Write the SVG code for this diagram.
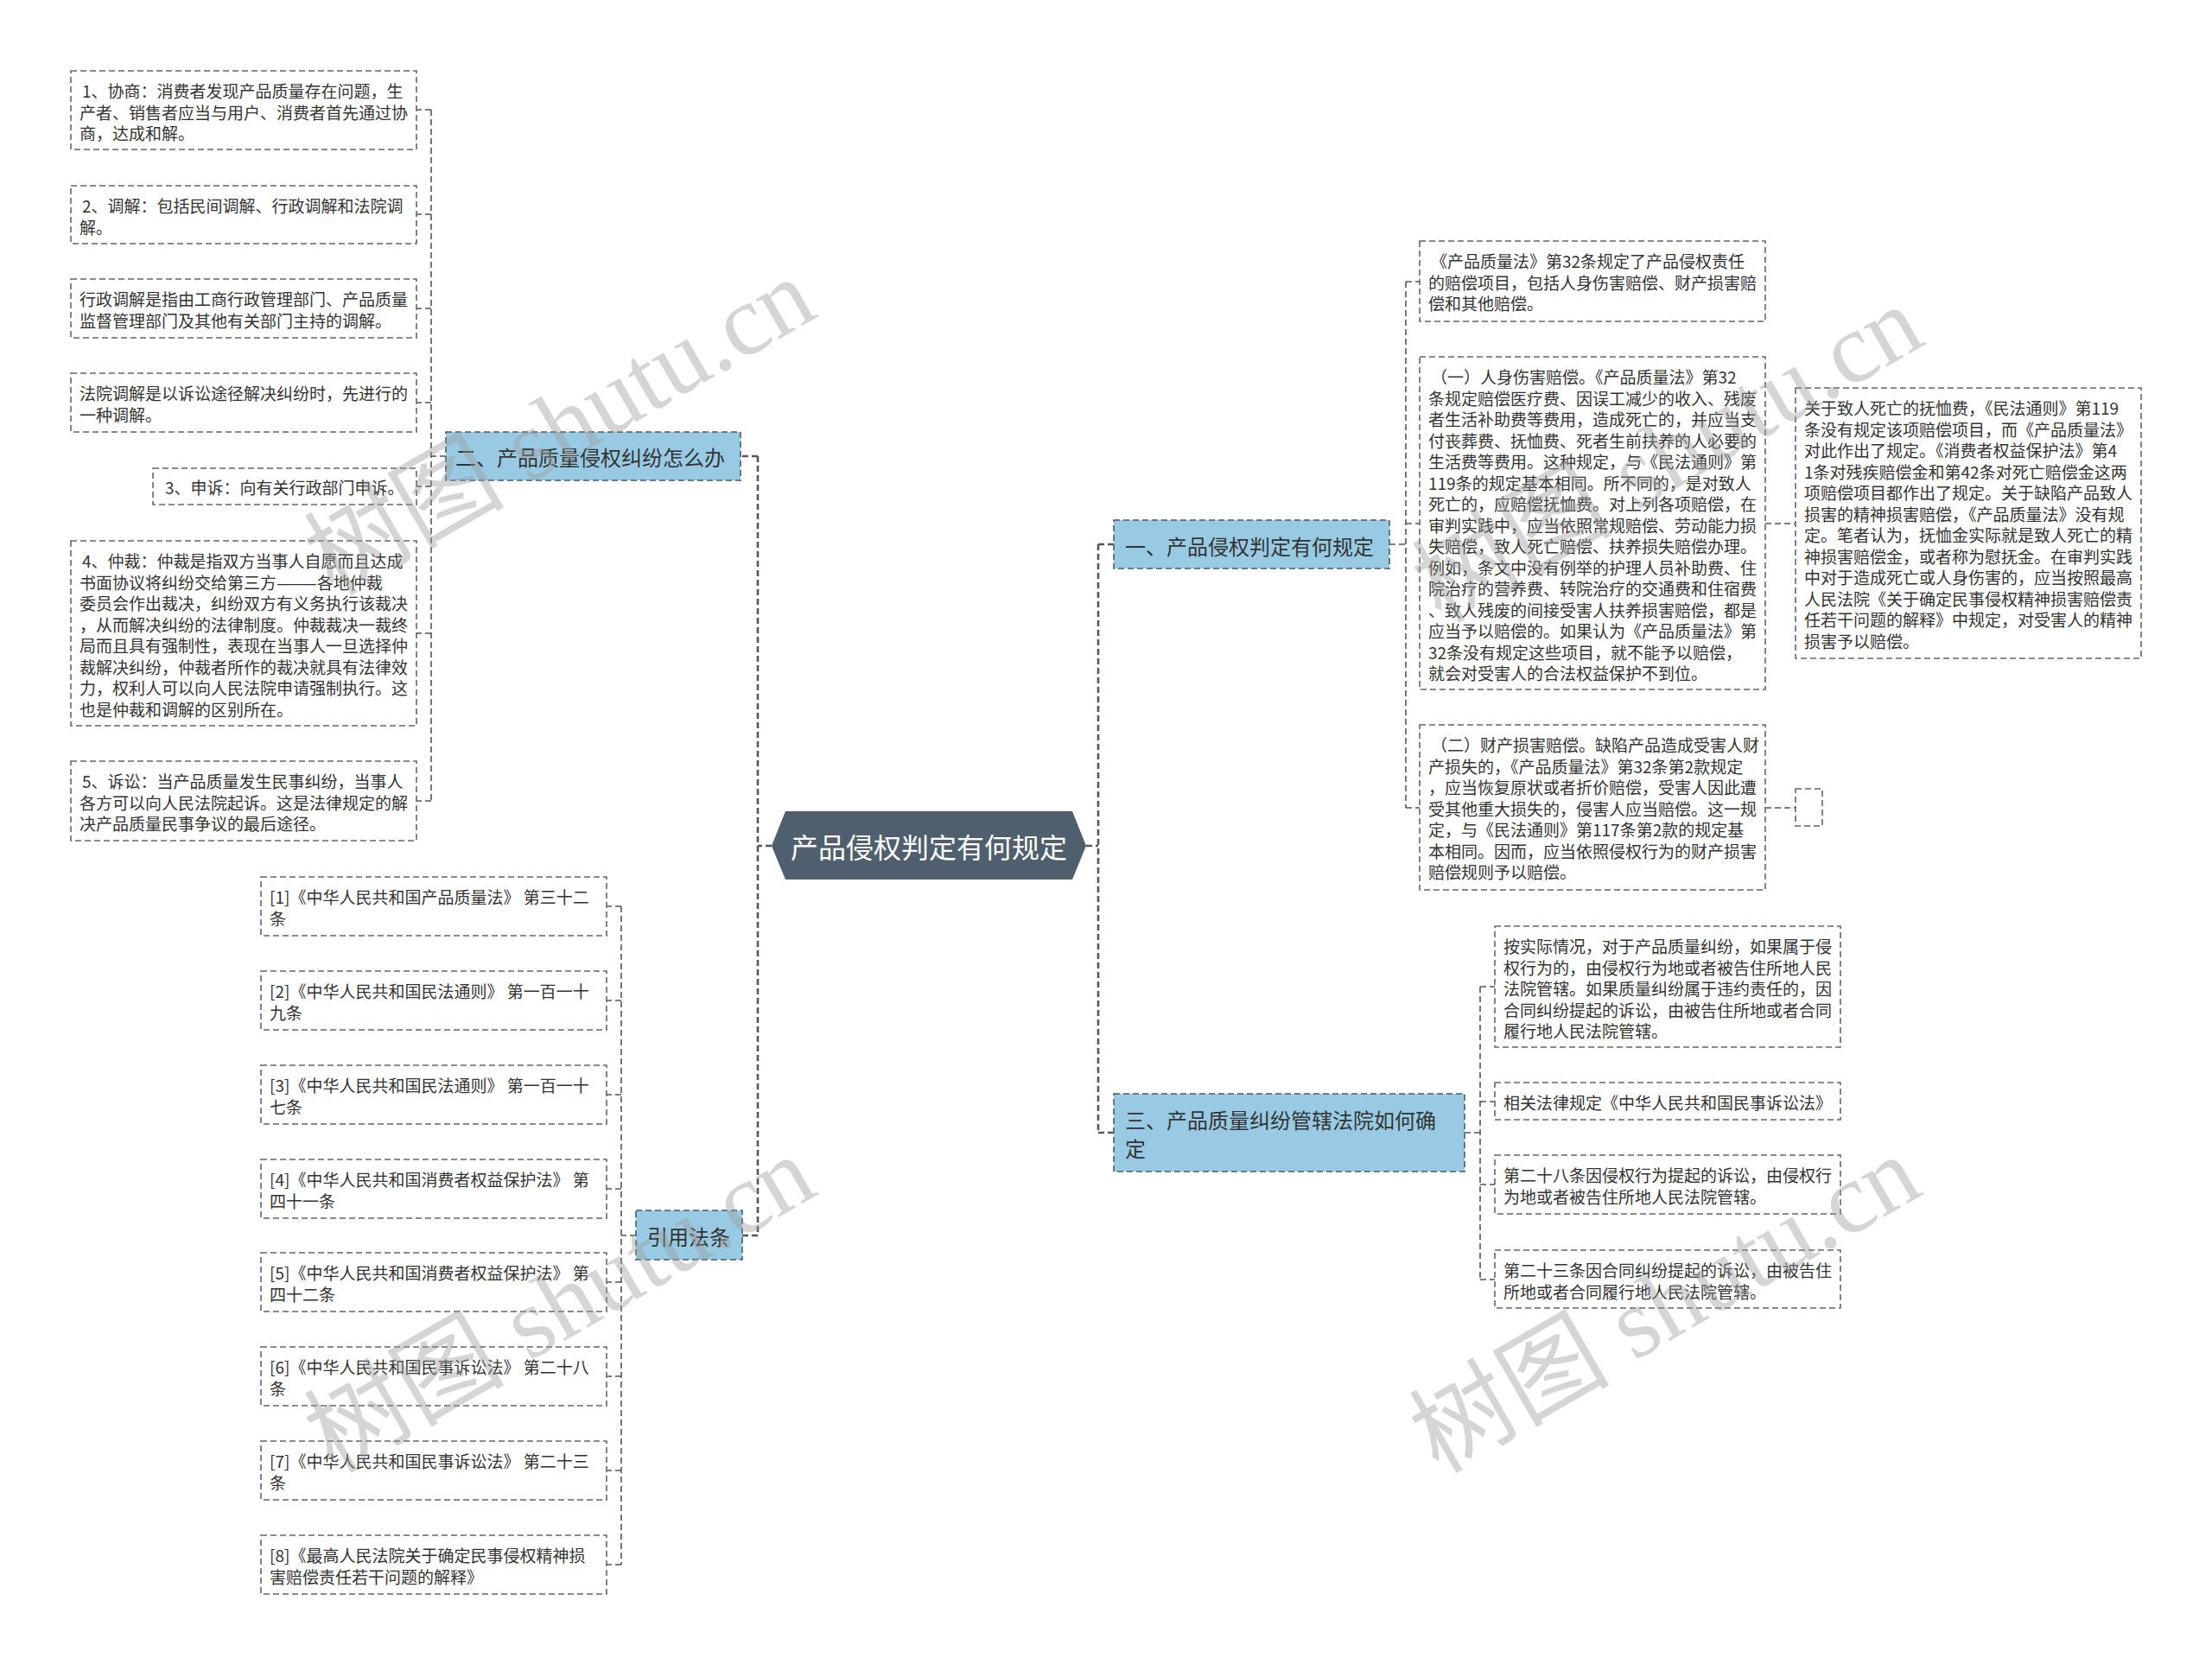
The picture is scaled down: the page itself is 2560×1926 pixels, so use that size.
<svg xmlns="http://www.w3.org/2000/svg" width="2560" height="1926" viewBox="0 0 2560 1926">
<style>
.bx{fill:#ffffff;stroke:#666;stroke-width:1.6;stroke-dasharray:7 4}
.br{fill:#98cbe3;stroke:#4a5a68;stroke-width:1.6;stroke-dasharray:7 4}
.t{font-family:"Noto Sans CJK SC","Microsoft YaHei",sans-serif;font-size:19px;fill:#333;dominant-baseline:central}
.tb{font-family:"Noto Sans CJK SC","Microsoft YaHei",sans-serif;font-size:24px;fill:#333;dominant-baseline:central}
.tc{font-family:"Noto Sans CJK SC","Microsoft YaHei",sans-serif;font-size:32px;fill:#fff;dominant-baseline:central;text-anchor:middle}
.c{fill:none;stroke:#555;stroke-width:1.6;stroke-dasharray:7 4}
.cm{fill:none;stroke:#4a5a68;stroke-width:2.6;stroke-dasharray:7 4}
.wm{font-family:"Liberation Serif","Noto Sans CJK SC",serif;font-size:116px;fill:#9a9a9a;fill-opacity:0.42;text-anchor:middle;dominant-baseline:central}
</style>
<rect width="2560" height="1926" fill="#ffffff"/>

<g id="connectors">
<path class="cm" d="M893 979 H877 M877 528 V1430 M877 528 H857 M877 1430 H859"/>
<path class="cm" d="M1257 979 H1271 M1271 630 V1311 M1271 630 H1289 M1271 1311 H1289"/>
<path class="c" d="M516 528 H499 M499 127 V927 M499 127 H482 M499 248 H482 M499 357 H482 M499 466 H482 M499 563 H482 M499 733 H482 M499 927 H482"/>
<path class="c" d="M736 1430 H719 M719 1049 V1811 M719 1049 H702 M719 1158 H702 M719 1267 H702 M719 1376 H702 M719 1484 H702 M719 1593 H702 M719 1702 H702 M719 1811 H702"/>
<path class="c" d="M1608 630 H1627 M1627 326 V935 M1627 326 H1643 M1627 606 H1643 M1627 935 H1643 M2043 606 H2078 M2043 935 H2078"/>
<path class="c" d="M1695 1311 H1713 M1713 1142 V1481 M1713 1142 H1730 M1713 1275 H1730 M1713 1371 H1730 M1713 1481 H1730"/>
</g>

<g id="center">
<polygon points="893,979 909,939 1241,939 1257,979 1241,1018 909,1018" fill="#4f5f6d"/>
<text class="tc" x="1075" y="979">产品侵权判定有何规定</text>
</g>

<g id="b2">
<rect class="br" x="516" y="500" width="341" height="56"/>
<text class="tb" x="527" y="528">二、产品质量侵权纠纷怎么办</text>
</g>
<g id="b2-1">
<rect class="bx" x="82" y="82" width="400" height="91"/>
<text class="t" x="93" y="104"><tspan x="95">1、协商：消费者发现产品质量存在问题，生</tspan><tspan x="92" dy="24.5">产者、销售者应当与用户、消费者首先通过协</tspan><tspan x="92" dy="24.5">商，达成和解。</tspan></text>
</g>
<g id="b2-2">
<rect class="bx" x="82" y="215" width="400" height="67"/>
<text class="t" x="92" y="237"><tspan x="95">2、调解：包括民间调解、行政调解和法院调</tspan><tspan x="92" dy="24.5">解。</tspan></text>
</g>
<g id="b2-3">
<rect class="bx" x="82" y="323" width="400" height="68"/>
<text class="t" x="92" y="345"><tspan x="92">行政调解是指由工商行政管理部门、产品质量</tspan><tspan x="92" dy="24.5">监督管理部门及其他有关部门主持的调解。</tspan></text>
</g>
<g id="b2-4">
<rect class="bx" x="82" y="432" width="400" height="68"/>
<text class="t" x="92" y="454"><tspan x="92">法院调解是以诉讼途径解决纠纷时，先进行的</tspan><tspan x="92" dy="24.5">一种调解。</tspan></text>
</g>
<g id="b2-5">
<rect class="bx" x="177" y="542" width="305" height="42"/>
<text class="t" x="191" y="563">3、申诉：向有关行政部门申诉。</text>
</g>
<g id="b2-6">
<rect class="bx" x="82" y="626" width="400" height="214"/>
<text class="t" x="92" y="648"><tspan x="95">4、仲裁：仲裁是指双方当事人自愿而且达成</tspan><tspan x="92" dy="24.5">书面协议将纠纷交给第三方———各地仲裁</tspan><tspan x="92" dy="24.5">委员会作出裁决，纠纷双方有义务执行该裁决</tspan><tspan x="92" dy="24.5">，从而解决纠纷的法律制度。仲裁裁决一裁终</tspan><tspan x="92" dy="24.5">局而且具有强制性，表现在当事人一旦选择仲</tspan><tspan x="92" dy="24.5">裁解决纠纷，仲裁者所作的裁决就具有法律效</tspan><tspan x="92" dy="24.5">力，权利人可以向人民法院申请强制执行。这</tspan><tspan x="92" dy="24.5">也是仲裁和调解的区别所在。</tspan></text>
</g>
<g id="b2-7">
<rect class="bx" x="82" y="881" width="400" height="92"/>
<text class="t" x="92" y="903"><tspan x="95">5、诉讼：当产品质量发生民事纠纷，当事人</tspan><tspan x="92" dy="24.5">各方可以向人民法院起诉。这是法律规定的解</tspan><tspan x="92" dy="24.5">决产品质量民事争议的最后途径。</tspan></text>
</g>

<g id="ref">
<rect class="br" x="736" y="1401" width="123" height="57"/>
<text class="tb" x="749" y="1430">引用法条</text>
</g>
<g id="ref-1"><rect class="bx" x="302" y="1015" width="400" height="68"/><text class="t" y="1037"><tspan x="312">[1]《中华人民共和国产品质量法》 第三十二</tspan><tspan x="312" dy="24.5">条</tspan></text></g>
<g id="ref-2"><rect class="bx" x="302" y="1124" width="400" height="68"/><text class="t" y="1146"><tspan x="312">[2]《中华人民共和国民法通则》 第一百一十</tspan><tspan x="312" dy="24.5">九条</tspan></text></g>
<g id="ref-3"><rect class="bx" x="302" y="1233" width="400" height="68"/><text class="t" y="1255"><tspan x="312">[3]《中华人民共和国民法通则》 第一百一十</tspan><tspan x="312" dy="24.5">七条</tspan></text></g>
<g id="ref-4"><rect class="bx" x="302" y="1342" width="400" height="68"/><text class="t" y="1364"><tspan x="312">[4]《中华人民共和国消费者权益保护法》 第</tspan><tspan x="312" dy="24.5">四十一条</tspan></text></g>
<g id="ref-5"><rect class="bx" x="302" y="1450" width="400" height="68"/><text class="t" y="1472"><tspan x="312">[5]《中华人民共和国消费者权益保护法》 第</tspan><tspan x="312" dy="24.5">四十二条</tspan></text></g>
<g id="ref-6"><rect class="bx" x="302" y="1559" width="400" height="68"/><text class="t" y="1581"><tspan x="312">[6]《中华人民共和国民事诉讼法》 第二十八</tspan><tspan x="312" dy="24.5">条</tspan></text></g>
<g id="ref-7"><rect class="bx" x="302" y="1668" width="400" height="68"/><text class="t" y="1690"><tspan x="312">[7]《中华人民共和国民事诉讼法》 第二十三</tspan><tspan x="312" dy="24.5">条</tspan></text></g>
<g id="ref-8"><rect class="bx" x="302" y="1777" width="400" height="68"/><text class="t" y="1799"><tspan x="312">[8]《最高人民法院关于确定民事侵权精神损</tspan><tspan x="312" dy="24.5">害赔偿责任若干问题的解释》</tspan></text></g>

<g id="b1">
<rect class="br" x="1289" y="602" width="319" height="56"/>
<text class="tb" x="1302" y="631">一、产品侵权判定有何规定</text>
</g>
<g id="b1-1">
<rect class="bx" x="1643" y="279" width="400" height="93"/>
<text class="t" y="301"><tspan x="1656">《产品质量法》第32条规定了产品侵权责任</tspan><tspan x="1653" dy="24.5">的赔偿项目，包括人身伤害赔偿、财产损害赔</tspan><tspan x="1653" dy="24.5">偿和其他赔偿。</tspan></text>
</g>
<g id="b1-2">
<rect class="bx" x="1643" y="413" width="400" height="385"/>
<text class="t" y="435"><tspan x="1656">（一）人身伤害赔偿。《产品质量法》第32</tspan><tspan x="1653" dy="24.5">条规定赔偿医疗费、因误工减少的收入、残废</tspan><tspan x="1653" dy="24.5">者生活补助费等费用，造成死亡的，并应当支</tspan><tspan x="1653" dy="24.5">付丧葬费、抚恤费、死者生前扶养的人必要的</tspan><tspan x="1653" dy="24.5">生活费等费用。这种规定，与《民法通则》第</tspan><tspan x="1653" dy="24.5">119条的规定基本相同。所不同的，是对致人</tspan><tspan x="1653" dy="24.5">死亡的，应赔偿抚恤费。对上列各项赔偿，在</tspan><tspan x="1653" dy="24.5">审判实践中，应当依照常规赔偿、劳动能力损</tspan><tspan x="1653" dy="24.5">失赔偿，致人死亡赔偿、扶养损失赔偿办理。</tspan><tspan x="1653" dy="24.5">例如，条文中没有例举的护理人员补助费、住</tspan><tspan x="1653" dy="24.5">院治疗的营养费、转院治疗的交通费和住宿费</tspan><tspan x="1653" dy="24.5">、致人残废的间接受害人扶养损害赔偿，都是</tspan><tspan x="1653" dy="24.5">应当予以赔偿的。如果认为《产品质量法》第</tspan><tspan x="1653" dy="24.5">32条没有规定这些项目，就不能予以赔偿，</tspan><tspan x="1653" dy="24.5">就会对受害人的合法权益保护不到位。</tspan></text>
</g>
<g id="b1-2-1">
<rect class="bx" x="2078" y="449" width="400" height="313"/>
<text class="t" y="471"><tspan x="2088">关于致人死亡的抚恤费，《民法通则》第119</tspan><tspan x="2088" dy="24.5">条没有规定该项赔偿项目，而《产品质量法》</tspan><tspan x="2088" dy="24.5">对此作出了规定。《消费者权益保护法》第4</tspan><tspan x="2088" dy="24.5">1条对残疾赔偿金和第42条对死亡赔偿金这两</tspan><tspan x="2088" dy="24.5">项赔偿项目都作出了规定。关于缺陷产品致人</tspan><tspan x="2088" dy="24.5">损害的精神损害赔偿，《产品质量法》没有规</tspan><tspan x="2088" dy="24.5">定。笔者认为，抚恤金实际就是致人死亡的精</tspan><tspan x="2088" dy="24.5">神损害赔偿金，或者称为慰抚金。在审判实践</tspan><tspan x="2088" dy="24.5">中对于造成死亡或人身伤害的，应当按照最高</tspan><tspan x="2088" dy="24.5">人民法院《关于确定民事侵权精神损害赔偿责</tspan><tspan x="2088" dy="24.5">任若干问题的解释》中规定，对受害人的精神</tspan><tspan x="2088" dy="24.5">损害予以赔偿。</tspan></text>
</g>
<g id="b1-3">
<rect class="bx" x="1643" y="839" width="400" height="191"/>
<text class="t" y="861"><tspan x="1656">（二）财产损害赔偿。缺陷产品造成受害人财</tspan><tspan x="1653" dy="24.5">产损失的，《产品质量法》第32条第2款规定</tspan><tspan x="1653" dy="24.5">，应当恢复原状或者折价赔偿，受害人因此遭</tspan><tspan x="1653" dy="24.5">受其他重大损失的，侵害人应当赔偿。这一规</tspan><tspan x="1653" dy="24.5">定，与《民法通则》第117条第2款的规定基</tspan><tspan x="1653" dy="24.5">本相同。因而，应当依照侵权行为的财产损害</tspan><tspan x="1653" dy="24.5">赔偿规则予以赔偿。</tspan></text>
</g>
<g id="b1-3-1">
<rect class="bx" x="2078" y="913" width="31" height="43"/>
</g>

<g id="b3">
<rect class="br" x="1289" y="1266" width="406" height="90"/>
<text class="tb" y="1295"><tspan x="1302">三、产品质量纠纷管辖法院如何确</tspan><tspan x="1302" dy="33">定</tspan></text>
</g>
<g id="b3-1">
<rect class="bx" x="1730" y="1072" width="400" height="140"/>
<text class="t" y="1094"><tspan x="1740">按实际情况，对于产品质量纠纷，如果属于侵</tspan><tspan x="1740" dy="24.5">权行为的，由侵权行为地或者被告住所地人民</tspan><tspan x="1740" dy="24.5">法院管辖。如果质量纠纷属于违约责任的，因</tspan><tspan x="1740" dy="24.5">合同纠纷提起的诉讼，由被告住所地或者合同</tspan><tspan x="1740" dy="24.5">履行地人民法院管辖。</tspan></text>
</g>
<g id="b3-2">
<rect class="bx" x="1730" y="1253" width="400" height="43"/>
<text class="t" x="1740" y="1275">相关法律规定《中华人民共和国民事诉讼法》</text>
</g>
<g id="b3-3">
<rect class="bx" x="1730" y="1337" width="400" height="68"/>
<text class="t" y="1359"><tspan x="1740">第二十八条因侵权行为提起的诉讼，由侵权行</tspan><tspan x="1740" dy="24.5">为地或者被告住所地人民法院管辖。</tspan></text>
</g>
<g id="b3-4">
<rect class="bx" x="1730" y="1447" width="400" height="67"/>
<text class="t" y="1469"><tspan x="1740">第二十三条因合同纠纷提起的诉讼，由被告住</tspan><tspan x="1740" dy="24.5">所地或者合同履行地人民法院管辖。</tspan></text>
</g>

<g id="watermark">
<text class="wm" transform="translate(648,494) rotate(-30)">树图 shutu.cn</text>
<text class="wm" transform="translate(648,1510) rotate(-30)">树图 shutu.cn</text>
<text class="wm" transform="translate(1930,526) rotate(-30)">树图 shutu.cn</text>
<text class="wm" transform="translate(1927,1510) rotate(-30)">树图 shutu.cn</text>
</g>
</svg>
